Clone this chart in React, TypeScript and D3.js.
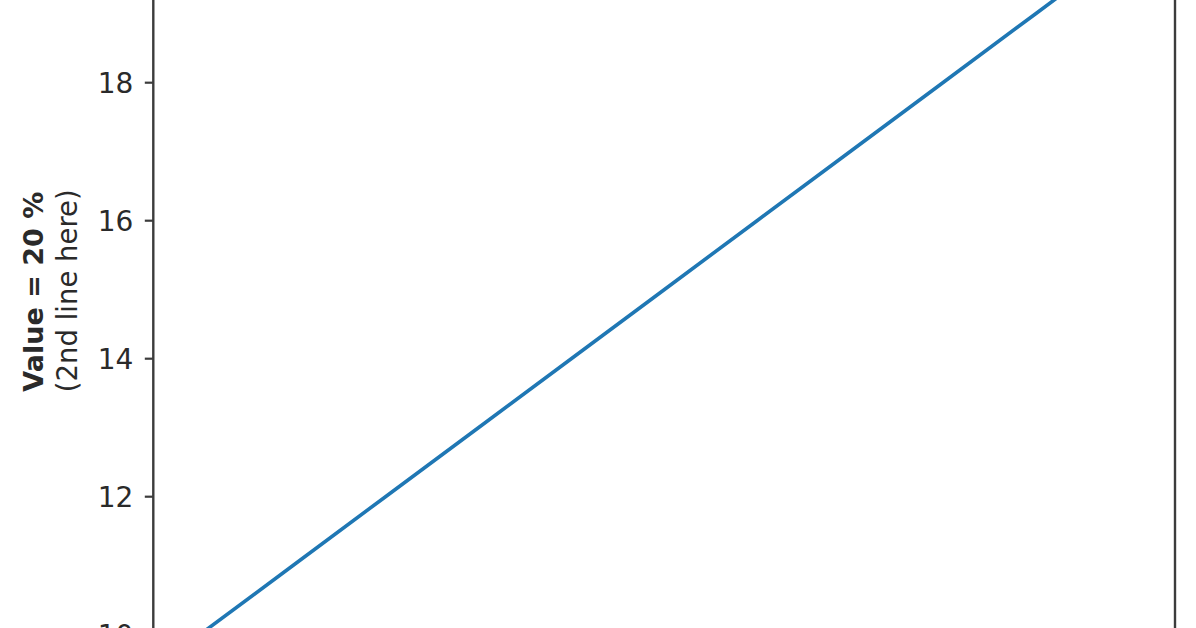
import React from "react";
import * as d3 from "d3";

const xValues = [0, 1, 2, 3, 4, 5, 6, 7, 8, 9, 10];
const yValues = [10, 11, 12, 13, 14, 15, 16, 17, 18, 19, 20];
const yTicks = [10, 12, 14, 16, 18];
const labelBold = "Value = 20 %";
const labelSecond = "(2nd line here)";

const W = 1196;
const H = 628;
const FONT = "'DejaVu Sans', sans-serif";

export default function App() {
  const x = d3.scaleLinear().domain([-0.5, 10.5]).range([153.3, 1175]);
  const y = d3.scaleLinear().domain([9.5, 20.5]).range([669.2, -89.8]);
  const pts = xValues.map((v, i) => [v, yValues[i]] as [number, number]);
  const line = d3
    .line<[number, number]>()
    .x((d) => x(d[0]))
    .y((d) => y(d[1]));
  const [x0, x1] = x.range();
  const [yb, yt] = y.range();
  const midY = y(15);
  const ink = "#2a2a2a";
  return (
    <svg
      width={W}
      height={H}
      style={{ position: "absolute", left: 0, top: 0, background: "#fff", overflow: "hidden" }}
      fontFamily={FONT}
    >
      <rect x={0} y={0} width={W} height={H} fill="#fff" />
      <path d={line(pts) || ""} fill="none" stroke="#1f77b4" strokeWidth={3.6} strokeLinecap="square" />
      {/* spines */}
      <rect x={x0} y={yt} width={x1 - x0} height={yb - yt} fill="none" stroke="#3c3c3c" strokeWidth={2.4} />
      {/* y ticks */}
      {yTicks.map((t) => (
        <g key={"y" + t} transform={`translate(0,${y(t)})`}>
          <line x1={x0 - 8.5} x2={x0} y1={0} y2={0} stroke="#3c3c3c" strokeWidth={2.2} />
          <text x={x0 - 20} dy="0.36em" textAnchor="end" fontSize={28} fill={ink}>
            {t}
          </text>
        </g>
      ))}
      {/* y label */}
      <text
        transform={`translate(43,${midY + 2}) rotate(-90)`}
        textAnchor="middle"
        fontSize={27}
        fontWeight="bold"
        fill={ink}
      >
        {labelBold}
      </text>
      <text
        transform={`translate(76.5,${midY + 1}) rotate(-90)`}
        textAnchor="middle"
        fontSize={27.5}
        fill={ink}
      >
        {labelSecond}
      </text>
    </svg>
  );
}
